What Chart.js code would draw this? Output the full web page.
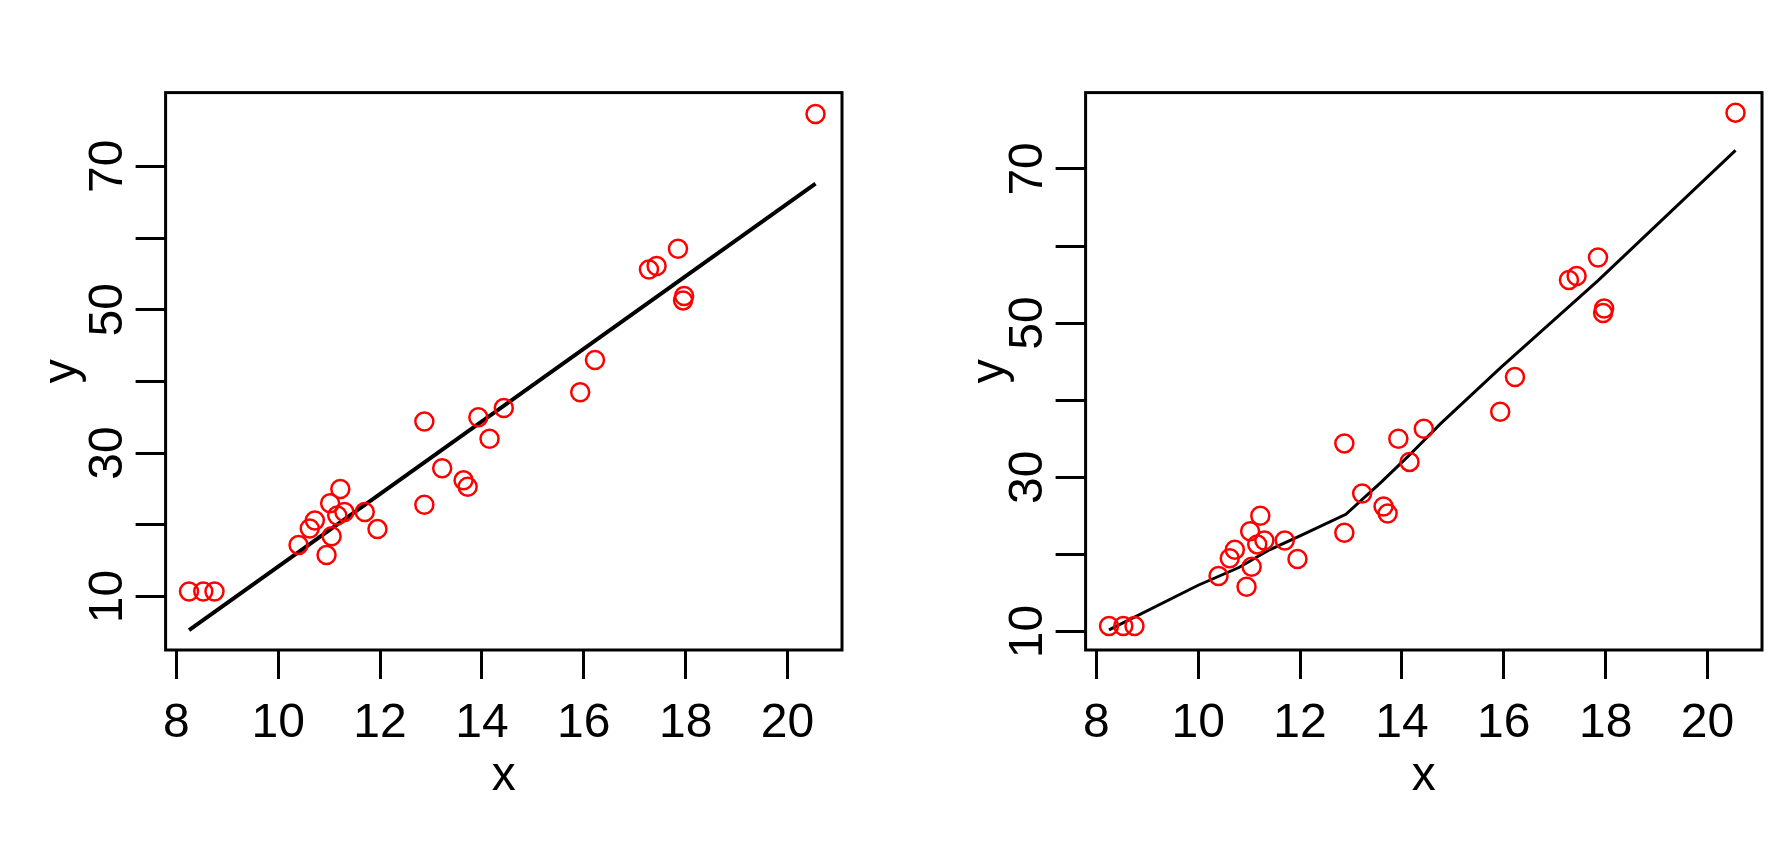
<!DOCTYPE html>
<html>
<head>
<meta charset="utf-8">
<script src="https://cdn.jsdelivr.net/npm/chart.js@4.4.1/dist/chart.umd.min.js"></script>
<style>
  html, body { margin: 0; padding: 0; background: #fff; }
  .panel { position: absolute; top: 0; height: 868px; }
  #left { left: 0; width: 894px; }
  #right { left: 920px; width: 869px; }
</style>
</head>
<body>
<div class="panel" id="left"><canvas id="fitChart"></canvas></div>
<div class="panel" id="right"><canvas id="smoothChart"></canvas></div>
<script>
// observed points (same data in both panels)
const xVals = [20.55, 17.85, 17.28, 17.43, 17.95, 17.97, 16.22, 15.93, 14.43, 13.93,
               12.87, 14.15, 13.22, 13.64, 13.72, 12.87, 11.22, 11.02, 11.30, 11.70,
               11.16, 11.95, 10.72, 10.62, 10.40, 10.95, 11.05, 8.25, 8.53, 8.75];
const yVals = [77.3, 58.5, 55.6, 56.1, 51.3, 51.9, 43.0, 38.5, 36.3, 35.0,
               34.4, 32.0, 27.9, 26.2, 25.3, 22.8, 25.0, 23.0, 21.8, 21.8,
               21.3, 19.4, 20.6, 19.5, 17.2, 15.8, 18.4, 10.7, 10.7, 10.7];

// straight fitted line (left)
const fitX = [8.25, 20.55];
const fitY = [5.3, 67.6];

// smooth curve (right)
const smoothX = [8.25, 10.0, 10.8, 11.4, 12.0, 12.9, 13.6, 14.15, 14.75, 15.95, 17.85, 20.55];
const smoothY = [10.2, 16.0, 18.3, 20.6, 22.4, 25.2, 29.4, 32.9, 36.9, 44.3, 55.5, 72.4];

// axis ticks
const xTicks = [8, 10, 12, 14, 16, 18, 20];
const yTicks = [10, 20, 30, 40, 50, 60, 70];
const yLabels = [10, 30, 50, 70];

const FONT = "'Liberation Sans', Arial, sans-serif";

const boxPlugin = {
  id: "box",
  afterDraw(chart) {
    const a = chart.chartArea;
    const ctx = chart.ctx;
    ctx.save();
    ctx.strokeStyle = "#000";
    ctx.lineWidth = 3;
    ctx.strokeRect(a.left, a.top, a.right - a.left, a.bottom - a.top);
    ctx.restore();
  },
};

function toPts(xs, ys) {
  return xs.map((x, i) => ({ x: x, y: ys[i] }));
}

function makePanel(id, lineX, lineY, lineW, yMin, yMax, rightPad, yTitlePad) {
  const ctx = document.getElementById(id).getContext("2d");
  return new Chart(ctx, {
    type: "scatter",
    data: {
      datasets: [
        {
          type: "line",
          data: toPts(lineX, lineY),
          borderColor: "#000",
          borderWidth: lineW,
          pointRadius: 0,
          fill: false,
          tension: 0,
          order: 2,
        },
        {
          data: toPts(xVals, yVals),
          pointStyle: "circle",
          pointRadius: 9,
          pointBorderWidth: 2.5,
          pointBorderColor: "#ff0000",
          pointBackgroundColor: "rgba(0,0,0,0)",
          order: 1,
        },
      ],
    },
    options: {
      responsive: true,
      maintainAspectRatio: false,
      animation: false,
      layout: { padding: { top: 92.6, right: rightPad, bottom: 0, left: 0 } },
      plugins: { legend: { display: false }, tooltip: { enabled: false } },
      scales: {
        x: {
          type: "linear",
          min: 7.79,
          max: 21.07,
          afterBuildTicks: (s) => { s.ticks = xTicks.map((v) => ({ value: v })); },
          afterFit: (s) => { s.height = 218; },
          border: { display: false },
          grid: { drawOnChartArea: false, drawTicks: true, tickLength: 29, color: "#000", lineWidth: 3 },
          ticks: { color: "#000", padding: 16, autoSkip: false, maxRotation: 0,
                   font: { family: FONT, size: 48 } },
          title: { display: true, text: "x", color: "#000",
                   font: { family: FONT, size: 48 }, padding: { top: 0, bottom: 62 } },
        },
        y: {
          type: "linear",
          min: yMin,
          max: yMax,
          afterBuildTicks: (s) => { s.ticks = yTicks.map((v) => ({ value: v })); },
          afterFit: (s) => { s.width = 165.6; },
          border: { display: false },
          grid: { drawOnChartArea: false, drawTicks: true, tickLength: 30, color: "#000", lineWidth: 3 },
          ticks: {
            color: "#000", padding: 0, autoSkip: false,
            minRotation: 90, maxRotation: 90, crossAlign: "center",
            font: { family: FONT, size: 48 },
            callback: (v) => (yLabels.includes(v) ? String(v) : ""),
          },
          title: { display: true, text: "y", color: "#000",
                   font: { family: FONT, size: 48 }, padding: { top: yTitlePad, bottom: 0 } },
        },
      },
    },
    plugins: [boxPlugin],
  });
}

document.addEventListener("DOMContentLoaded", function () {
  makePanel("fitChart", fitX, fitY, 4, 2.54, 80.28, 52, 34);
  makePanel("smoothChart", smoothX, smoothY, 3, 7.6, 79.9, 27, 42);
});
</script>
</body>
</html>
